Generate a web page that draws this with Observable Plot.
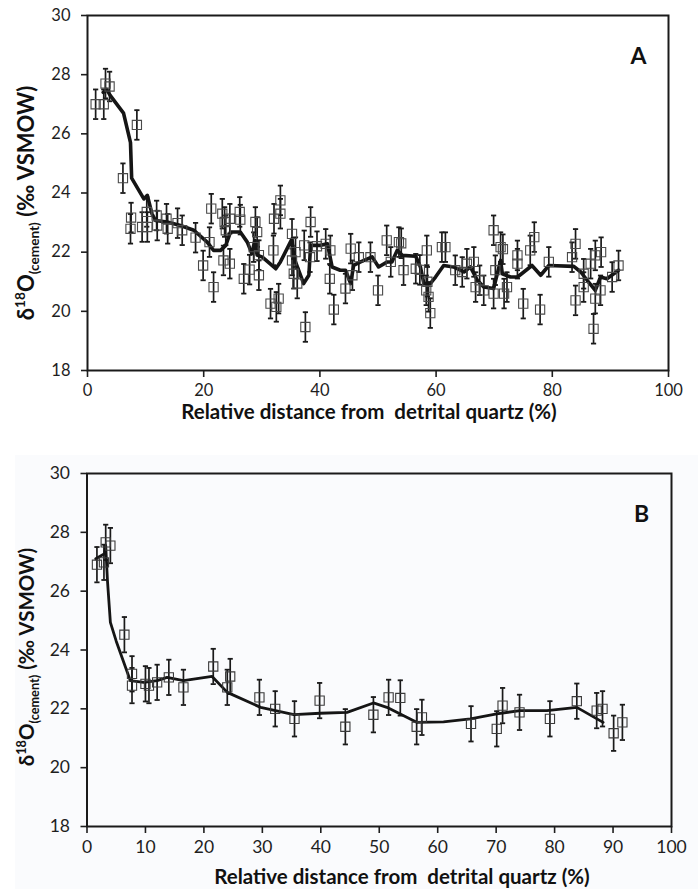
<!DOCTYPE html>
<html>
<head>
<meta charset="utf-8">
<script src="https://cdn.jsdelivr.net/npm/d3@7"></script>
<script src="https://cdn.jsdelivr.net/npm/@observablehq/plot@0.6"></script>
<style>
  html, body { margin: 0; padding: 0; background: #ffffff; }
  body { width: 698px; height: 889px; overflow: hidden; font-family: Lato, "Open Sans", sans-serif; }
  #panelA { position: absolute; left: 0; top: 0; width: 698px; height: 440px; }
  #panelB { position: absolute; left: 0; top: 440px; width: 698px; height: 449px; }
  #tintB { position: absolute; left: 15px; top: 455px; width: 683px; height: 434px; background: #fafbfd; }
</style>
</head>
<body>
<div id="tintB"></div>
<div id="panelA"></div>
<div id="panelB"></div>
<script>
// ---------- Panel A data ----------
const ax = [1.4, 2.8, 3.1, 3.8, 6.1, 8.5, 7.5, 7.4, 9.4, 10.2, 10.3, 11.9, 12.0, 13.6, 13.8, 15.5, 16.3, 18.6, 19.9, 21.3,
  21.0, 21.7, 23.2, 23.6, 23.4, 23.8, 24.5, 24.5, 26.2, 26.3, 26.9, 27.9, 28.9, 29.2, 28.6, 29.5, 29.5, 32.1, 32.0, 31.5,
  32.9, 32.5, 33.2, 33.2, 35.2, 35.2, 35.5, 35.8, 36.1, 37.5, 37.3, 38.4, 38.3, 39.5, 41.0, 41.8, 41.7, 42.4, 44.4, 45.3,
  45.6, 46.7, 48.7, 50.0, 51.5, 52.2, 53.6, 54.0, 54.4, 56.5, 57.2, 58.4, 58.3, 58.7, 59.0, 58.5, 61.0, 61.6, 63.3, 64.5,
  65.3, 66.5, 66.8, 67.5, 68.2, 69.9, 69.9, 70.2, 71.1, 71.5, 71.7, 72.2, 74.0, 74.0, 75.0, 76.2, 76.9, 77.9, 79.4, 83.4,
  84.0, 84.0, 85.4, 85.4, 86.6, 87.1, 87.4, 88.3, 88.4, 87.4, 90.3, 91.4];
const ay = [27.0, 27.0, 27.7, 27.6, 24.5, 26.3, 23.17, 22.79, 22.85, 23.36, 22.85, 23.24, 22.9, 23.13, 22.79, 22.98, 22.74, 22.49, 21.55, 23.47,
  22.34, 20.82, 23.3, 23.02, 21.72, 22.74, 23.13, 21.61, 23.36, 23.1, 21.1, 21.41, 23.02, 22.68, 22.17, 21.22, 21.9, 23.13, 22.06, 20.26,
  20.43, 20.15, 23.75, 23.3, 22.62, 21.72, 21.27, 22.0, 20.94, 19.47, 22.23, 23.02, 21.83, 22.2, 22.28, 22.06, 21.1, 20.06, 20.77, 22.12,
  21.22, 21.83, 21.83, 20.71, 22.4, 21.67, 22.34, 22.3, 21.39, 21.44, 21.4, 22.06, 20.71, 20.49, 19.94, 21.0, 22.17, 22.17, 21.39, 21.33,
  21.61, 21.67, 20.82, 21.05, 20.71, 22.74, 20.6, 21.39, 22.17, 22.1, 20.6, 20.82, 21.89, 21.61, 20.26, 22.06, 22.51, 20.06, 21.67, 21.83,
  22.28, 20.37, 21.27, 20.82, 21.61, 19.41, 20.43, 20.71, 22.0, 21.89, 21.16, 21.55];
const errA = 0.5;
const lineAx = [2.7, 3.3, 3.9, 6.2, 7.4, 7.6, 9.7, 10.3, 11.1, 11.7, 13.7, 16.0, 18.3, 20.6, 21.7, 22.9, 23.8, 24.6, 26.3, 27.5,
  28.3, 28.8, 29.2, 30.1, 32.4, 33.2, 35.2, 35.5, 37.2, 38.1, 38.4, 40.1, 41.3, 42.1, 43.5, 44.4, 45.3, 45.8, 47.0, 49.0,
  50.1, 51.6, 52.4, 53.3, 54.2, 56.5, 57.3, 57.9, 59.0, 59.9, 61.3, 63.0, 64.8, 65.9, 67.1, 68.2, 69.9, 71.1, 71.4, 72.8,
  74.0, 75.1, 76.5, 78.0, 79.4, 83.7, 84.9, 86.0, 87.4, 88.3, 89.4, 91.4];
const lineAy = [27.4, 27.5, 27.3, 26.7, 25.7, 24.5, 23.8, 23.92, 23.3, 23.07, 23.02, 22.9, 22.74, 22.34, 22.06, 22.06, 22.23, 22.68, 22.68, 22.34,
  21.95, 22.4, 21.9, 21.83, 21.44, 21.67, 22.45, 21.83, 20.94, 21.22, 22.23, 22.23, 22.28, 21.5, 21.39, 21.39, 20.94, 21.55, 21.67, 21.84,
  21.5, 21.67, 21.67, 22.06, 21.89, 21.86, 21.5, 20.94, 20.94, 21.16, 21.55, 21.5, 21.33, 21.5, 21.05, 20.82, 20.77, 21.72, 21.27, 21.16,
  21.16, 21.33, 21.55, 21.22, 21.55, 21.52, 21.33, 21.05, 20.71, 21.16, 21.1, 21.39];

// ---------- Panel B data ----------
const bx = [1.7, 2.9, 3.2, 4.0, 6.4, 7.7, 7.7, 10.0, 10.6, 12.0, 14.0, 16.5, 21.6, 24.0, 24.5, 29.5, 32.2, 35.5, 39.8, 44.2,
  49.0, 51.6, 53.6, 56.4, 57.3, 65.7, 70.1, 71.1, 74.0, 79.2, 83.8, 87.2, 88.2, 90.1, 91.6];
const by = [26.9, 26.98, 27.66, 27.55, 24.52, 23.19, 22.79, 22.85, 22.79, 22.9, 23.07, 22.73, 23.44, 22.73, 23.1, 22.39, 22.0, 21.66, 22.28, 21.39,
  21.8, 22.39, 22.37, 21.39, 21.71, 21.49, 21.32, 22.11, 21.88, 21.66, 22.26, 21.94, 22.0, 21.17, 21.54];
const errB = 0.6;
const lineBx = [1.5, 3.0, 3.2, 3.5, 4.0, 5.0, 7.4, 9.7, 12.0, 13.7, 16.5, 21.4, 24.0, 29.7, 35.4, 39.9, 44.5, 49.0, 51.3, 56.4,
  61.0, 65.6, 70.1, 74.1, 78.7, 83.8, 88.3];
const lineBy = [27.1, 27.27, 27.55, 26.36, 24.94, 24.3, 22.96, 22.9, 22.96, 23.07, 22.96, 23.1, 22.56, 22.05, 21.8, 21.85, 21.88, 22.2, 22.05, 21.54,
  21.56, 21.66, 21.83, 21.94, 21.94, 22.05, 21.54];

// ---------- tick labels ----------
const xTicksA = [0, 20, 40, 60, 80, 100];
const xTicksB = [0, 10, 20, 30, 40, 50, 60, 70, 80, 90, 100];
const yTicks = [18, 20, 22, 24, 26, 28, 30];
const xTitle = "Relative distance from\u00a0 detrital quartz (%)";

const ptsA = ax.map((x, i) => ({x, y: ay[i]}));
const ptsB = bx.map((x, i) => ({x, y: by[i]}));
const lnA = lineAx.map((x, i) => ({x, y: lineAy[i]}));
const lnB = lineBx.map((x, i) => ({x, y: lineBy[i]}));

const cap = {
  draw(ctx, size) {
    const w = Math.sqrt(size / Math.PI);
    ctx.moveTo(-w, 0);
    ctx.lineTo(w, 0);
  }
};

function panel(opts) {
  const {pts, ln, err, xTicks, letter, height, mt, mb, ml, mr, fs, lineW, sqStroke} = opts;
  const svg = Plot.plot({
    width: 698,
    height,
    marginTop: mt,
    marginBottom: mb,
    marginLeft: ml,
    marginRight: mr,
    x: {domain: [0, 100]},
    y: {domain: [18, 30]},
    style: {fontFamily: "Lato, 'Open Sans', sans-serif", fontSize: fs + "px", color: "#1e1e1e", background: "transparent", overflow: "visible"},
    marks: [
      Plot.axisX({ticks: xTicks, tickSize: 7, tickPadding: 7, label: null, strokeWidth: 1.6, fontSize: fs}),
      Plot.axisY({ticks: yTicks, tickSize: 6, tickPadding: 11, label: null, strokeWidth: 1.6, fontSize: fs}),
      Plot.frame({stroke: "#1a1a1a", strokeWidth: 2}),
      Plot.ruleX(pts, {x: "x", y1: d => d.y - err, y2: d => d.y + err, stroke: "#1a1a1a", strokeWidth: 1.7}),
      Plot.dot(pts, {x: "x", y: d => d.y + err, symbol: cap, r: 2.6, stroke: "#1a1a1a", strokeWidth: 1.8, fill: "none"}),
      Plot.dot(pts, {x: "x", y: d => d.y - err, symbol: cap, r: 2.6, stroke: "#1a1a1a", strokeWidth: 1.8, fill: "none"}),
      Plot.line(ln, {x: "x", y: "y", stroke: "#151515", strokeWidth: lineW, strokeLinejoin: "round", strokeLinecap: "round"}),
      Plot.dot(pts, {x: "x", y: "y", symbol: "square", r: 5.2, stroke: sqStroke, strokeWidth: 1.1, fill: "none"}),
      Plot.text([letter], {frameAnchor: "top-right", dx: -30, dy: 32, text: d => d, fontSize: 23, fontWeight: "bold", fill: "#111", textAnchor: "middle"})
    ]
  });
  return svg;
}

function addTitles(svg, o) {
  const s = d3.select(svg);
  s.append("text")
    .attr("x", o.xTitleX).attr("y", o.xTitleY)
    .attr("text-anchor", "middle")
    .attr("font-family", "Lato, 'Open Sans', sans-serif")
    .attr("font-weight", "bold")
    .attr("font-size", o.tfs)
    .attr("fill", "#111")
    .text(xTitle);
  const t = s.append("text")
    .attr("transform", `translate(${o.yTitleX},${o.yTitleY}) rotate(-90)`)
    .attr("text-anchor", "middle")
    .attr("font-family", "Lato, 'Open Sans', sans-serif")
    .attr("font-weight", "bold")
    .attr("font-size", o.yfs)
    .attr("fill", "#111");
  t.append("tspan").text("\u03b4");
  t.append("tspan").attr("dy", -o.yfs * 0.4).attr("font-size", o.yfs * 0.62).text("18");
  t.append("tspan").attr("dy", o.yfs * 0.4).text("O");
  t.append("tspan").attr("dy", o.yfs * 0.22).attr("font-size", o.yfs * 0.62).text("(cement)");
  t.append("tspan").attr("dy", -o.yfs * 0.22).text(" (\u2030 VSMOW)");
}

const svgA = panel({pts: ptsA, ln: lnA, err: errA, xTicks: xTicksA, letter: "A", height: 440, mt: 15, mb: 70, ml: 87, mr: 30, fs: 16.5, lineW: 3.6, sqStroke: "#4a4a4a"});
addTitles(svgA, {xTitleX: 369, xTitleY: 419, tfs: 20.5, yTitleX: 34, yTitleY: 203, yfs: 22});
document.getElementById("panelA").appendChild(svgA);

const svgB = panel({pts: ptsB, ln: lnB, err: errB, xTicks: xTicksB, letter: "B", height: 449, mt: 33, mb: 63, ml: 86.5, mr: 27, fs: 17.5, lineW: 2.8, sqStroke: "#3a3a3a"});
addTitles(svgB, {xTitleX: 402, xTitleY: 444, tfs: 20.5, yTitleX: 34, yTitleY: 217, yfs: 20.5});
document.getElementById("panelB").appendChild(svgB);
</script>
</body>
</html>
